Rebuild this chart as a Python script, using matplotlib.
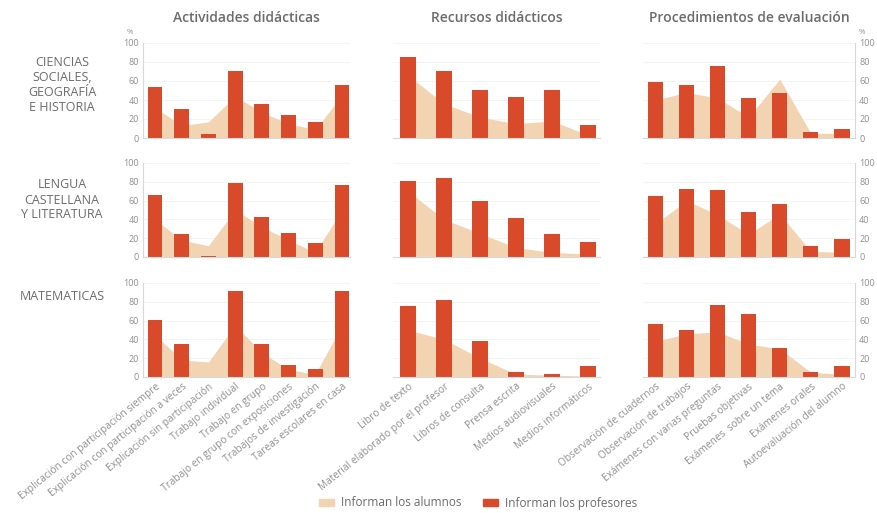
import matplotlib
matplotlib.use("Agg")
import matplotlib.pyplot as plt
from matplotlib.patches import Patch
import numpy as np

plt.rcParams['font.family'] = ['Open Sans', 'DejaVu Sans']

# ---------------- data ----------------
groups = ["Actividades didácticas", "Recursos didácticos", "Procedimientos de evaluación"]
subjects = ["CIENCIAS\nSOCIALES,\nGEOGRAFÍA\nE HISTORIA", "LENGUA\nCASTELLANA\nY LITERATURA", "MATEMATICAS"]

cats_act = ["Explicación con participación siempre", "Explicación con participación a veces",
            "Explicación sin participación", "Trabajo individual", "Trabajo en grupo",
            "Trabajo en grupo con exposiciones", "Trabajos de investigación", "Tareas escolares en casa"]
cats_rec = ["Libro de texto", "Material elaborado por el profesor", "Libros de consulta",
            "Prensa escrita", "Medios audiovisuales", "Medios informáticos"]
cats_eva = ["Observación de cuadernos", "Observación de trabajos", "Exámenes con varias preguntas",
            "Pruebas objetivas", "Exámenes  sobre un tema", "Exámenes orales", "Autoevaluación del alumno"]

# profesores (bars)
prof_cs_act = [54, 31, 4, 71, 36, 24, 17, 56]
prof_cs_rec = [85, 70, 51, 43, 51, 14]
prof_cs_eva = [59, 56, 76, 42, 47, 6, 10]
prof_le_act = [66, 24, 1, 79, 43, 26, 15, 77]
prof_le_rec = [81, 84, 60, 41, 25, 16]
prof_le_eva = [65, 72, 71, 48, 56, 12, 19]
prof_ma_act = [61, 35, 0, 91, 35, 13, 8, 91]
prof_ma_rec = [76, 82, 38, 5, 3, 12]
prof_ma_eva = [56, 50, 77, 67, 31, 5, 12]

# alumnos (area)
alum_cs_act = [32, 13, 17, 44, 27, 15, 9, 45]
alum_cs_rec = [66, 36, 22, 15, 18, 3]
alum_cs_eva = [40, 48, 42, 22, 62, 5, 5]
alum_le_act = [40, 18, 12, 50, 32, 18, 5, 50]
alum_le_rec = [70, 40, 25, 10, 5, 3]
alum_le_eva = [35, 60, 45, 24, 46, 6, 5]
alum_ma_act = [45, 18, 16, 55, 26, 8, 3, 55]
alum_ma_rec = [50, 40, 20, 3, 2, 1]
alum_ma_eva = [38, 46, 48, 35, 30, 5, 3]

yticks = [0, 20, 40, 60, 80, 100]

cats = [cats_act, cats_rec, cats_eva]
prof = [[prof_cs_act, prof_cs_rec, prof_cs_eva],
        [prof_le_act, prof_le_rec, prof_le_eva],
        [prof_ma_act, prof_ma_rec, prof_ma_eva]]
alum = [[alum_cs_act, alum_cs_rec, alum_cs_eva],
        [alum_le_act, alum_le_rec, alum_le_eva],
        [alum_ma_act, alum_ma_rec, alum_ma_eva]]

# ---------------- style ----------------
W, H = 878, 513
BAR = '#d94a2b'
AREA = '#f2d4b2'
TXT = '#6b6b6b'
TICK = '#8f8f8f'
SPINE = '#d8d8d8'

fig = plt.figure(figsize=(W / 100, H / 100), dpi=100)
fig.patch.set_facecolor('white')

col_l = [143, 393, 643]
col_r = [350, 600, 855]
row_zero = [138, 257, 377]
row_top = [43, 163, 283]
xlims = [(-0.45, 7.3), (-0.42, 5.33), (-0.4, 6.42)]
bar_w = [0.56, 0.44, 0.49]

for r in range(3):
    for c in range(3):
        left = col_l[c] / W
        width = (col_r[c] - col_l[c]) / W
        bottom = 1 - row_zero[r] / H
        height = (row_zero[r] - row_top[r]) / H
        ax = fig.add_axes([left, bottom, width, height])
        x = np.arange(len(cats[c]))
        ax.fill_between(x, alum[r][c], color=AREA, lw=0, zorder=1)
        ax.bar(x, prof[r][c], width=bar_w[c], color=BAR, zorder=2)
        ax.set_xlim(*xlims[c])
        ax.set_ylim(0, 100)
        ax.set_yticks(yticks)
        ax.grid(axis='y', color='#f2f2f2', lw=0.6, zorder=0)
        ax.set_axisbelow(True)
        for s in ['top', 'left', 'right']:
            ax.spines[s].set_visible(False)
        ax.spines['bottom'].set_color(SPINE)
        ax.spines['bottom'].set_linewidth(0.8)
        ax.tick_params(axis='x', length=0, colors=TICK, labelsize=7.3, pad=3)
        ax.tick_params(axis='y', length=0, colors=TICK, labelsize=6.5, pad=3)
        if c == 0:
            ax.spines['left'].set_visible(True)
            ax.spines['left'].set_color(SPINE)
            ax.spines['left'].set_linewidth(0.8)
        elif c == 2:
            ax.spines['right'].set_visible(True)
            ax.spines['right'].set_color(SPINE)
            ax.spines['right'].set_linewidth(0.8)
            ax.yaxis.tick_right()
        if c == 1:
            ax.set_yticklabels([])
        ax.set_xticks(x)
        if r == 2:
            ax.set_xticklabels(cats[c], rotation=39, ha='right', rotation_mode='anchor')
        else:
            ax.set_xticklabels([])
        if r == 0:
            ax.set_title(groups[c], fontsize=10, color=TXT, fontweight='semibold', pad=15)

# row labels
label_y = [85, 200, 297]
for r in range(3):
    fig.text(62 / W, 1 - label_y[r] / H, subjects[r], ha='center', va='center',
             fontsize=9, color=TXT, linespacing=1.2)

# % markers
fig.text(130 / W, 1 - 33 / H, '%', ha='center', va='center', fontsize=5.5, color=TICK)
fig.text(862 / W, 1 - 33 / H, '%', ha='center', va='center', fontsize=5.5, color=TICK)

# legend
handles = [Patch(color=AREA, label='Informan los alumnos'),
           Patch(color=BAR, label='Informan los profesores')]
fig.legend(handles=handles, loc='center', bbox_to_anchor=(478 / W, 1 - 503 / H), ncol=2,
           frameon=False, fontsize=8.5, handlelength=1.3, handleheight=0.5,
           columnspacing=1.8, handletextpad=0.6, labelcolor=TXT)

fig.savefig('out.png', dpi=100, facecolor='white')
